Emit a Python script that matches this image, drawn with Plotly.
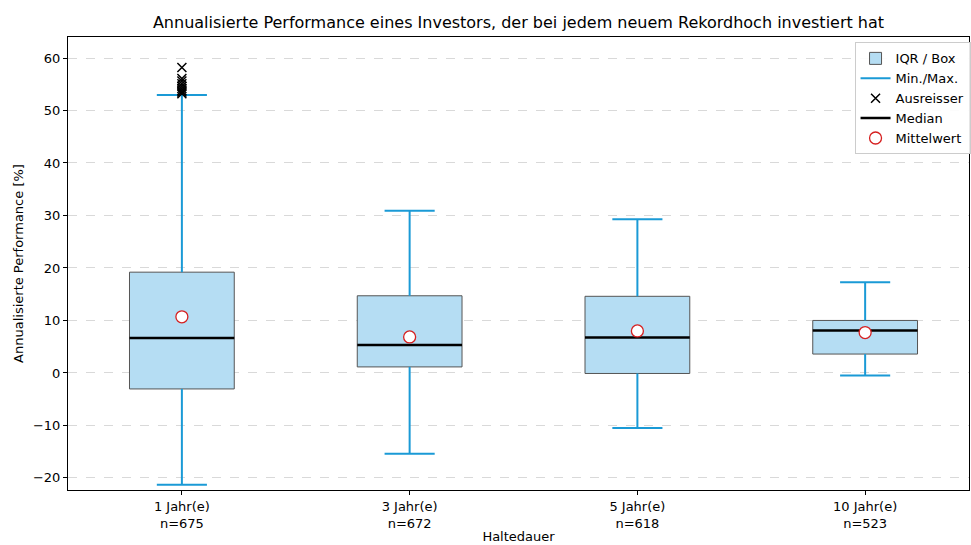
import plotly.graph_objects as go

categories = ["1 Jahr(e)", "3 Jahr(e)", "5 Jahr(e)", "10 Jahr(e)"]
counts = [675, 672, 618, 523]
q1 = [-3.05, 1.15, -0.1, 3.6]
median = [6.67, 5.33, 6.76, 8.1]
q3 = [19.2, 14.7, 14.6, 10.0]
mean = [10.7, 6.86, 8.0, 7.7]
wmin = [-21.3, -15.4, -10.5, -0.5]
wmax = [52.95, 30.9, 29.3, 17.3]
outliers = [[53.2, 53.5, 53.8, 54.2, 54.6, 55.1, 55.6, 56.1, 58.2], [], [], []]

pos = [1, 2, 3, 4]
box_w = 0.46
cap = 0.11
FONT = "DejaVu Sans"
BLUE = "#1a9ad6"

fig = go.Figure()

# Boxes
fig.add_trace(go.Bar(
    x=pos, y=[b - a for a, b in zip(q1, q3)], base=q1, width=box_w,
    marker=dict(color="#b5ddf3", line=dict(color="#555555", width=1)),
    name="IQR / Box", hoverinfo="skip"))

# Whiskers
wx, wy = [], []
for p, a, b, lo, hi in zip(pos, q1, q3, wmin, wmax):
    wx += [p, p, None, p, p, None, p - cap, p + cap, None, p - cap, p + cap, None]
    wy += [b, hi, None, a, lo, None, hi, hi, None, lo, lo, None]
fig.add_trace(go.Scatter(x=wx, y=wy, mode="lines", line=dict(color=BLUE, width=2),
                         name="Min./Max.", hoverinfo="skip"))

# Outliers
ox, oy = [], []
for p, vals in zip(pos, outliers):
    for v in vals:
        ox.append(p)
        oy.append(v)
fig.add_trace(go.Scatter(x=ox, y=oy, mode="markers",
                         marker=dict(symbol="x-thin", size=9, line=dict(color="black", width=1.5), color="black"),
                         name="Ausreisser"))

# Medians
mx, my = [], []
for p, m in zip(pos, median):
    mx += [p - box_w / 2, p + box_w / 2, None]
    my += [m, m, None]
fig.add_trace(go.Scatter(x=mx, y=my, mode="lines", line=dict(color="black", width=2.5),
                         name="Median", hoverinfo="skip"))

# Means
fig.add_trace(go.Scatter(x=pos, y=mean, mode="markers",
                         marker=dict(symbol="circle", size=12, color="white",
                                     line=dict(color="#d62020", width=1.3)),
                         name="Mittelwert"))

ticktext = [f"{c}<br>n={n}" for c, n in zip(categories, counts)]

fig.update_layout(
    width=971, height=545,
    margin=dict(l=68, r=1, t=37, b=55),
    paper_bgcolor="white", plot_bgcolor="white",
    font=dict(family=FONT, size=13, color="black"),
    title=dict(text="Annualisierte Performance eines Investors, der bei jedem neuem Rekordhoch investiert hat",
               x=0.5, xref="paper", xanchor="center", y=0.958, yanchor="middle",
               font=dict(size=16, family=FONT, color="black")),
    showlegend=True,
    legend=dict(x=0.872, y=0.988, xanchor="left", yanchor="top",
                bgcolor="rgba(255,255,255,0.9)", bordercolor="#cccccc", borderwidth=1,
                font=dict(size=13, family=FONT), tracegroupgap=0, itemwidth=30),
    xaxis=dict(range=[0.5, 4.456], tickmode="array", tickvals=pos, ticktext=ticktext,
               showgrid=False, zeroline=False, showline=True, linecolor="black", linewidth=1,
               mirror=True, ticks="outside", ticklen=4, tickcolor="black",
               title=dict(text="Haltedauer", font=dict(size=13), standoff=2)),
    yaxis=dict(range=[-22.3, 64.0], tickvals=[-20, -10, 0, 10, 20, 30, 40, 50, 60],
               showgrid=True, gridcolor="#d9d9d9", griddash="dash", gridwidth=0.8,
               zeroline=False, showline=True, linecolor="black", linewidth=1, mirror=True,
               ticks="outside", ticklen=4, tickcolor="black",
               title=dict(text="Annualisierte Performance [%]", font=dict(size=13), standoff=6)),
)

fig.write_html("out.html", config={"displayModeBar": False},
               post_script="document.body.style.margin='0';document.body.style.overflow='hidden';")
